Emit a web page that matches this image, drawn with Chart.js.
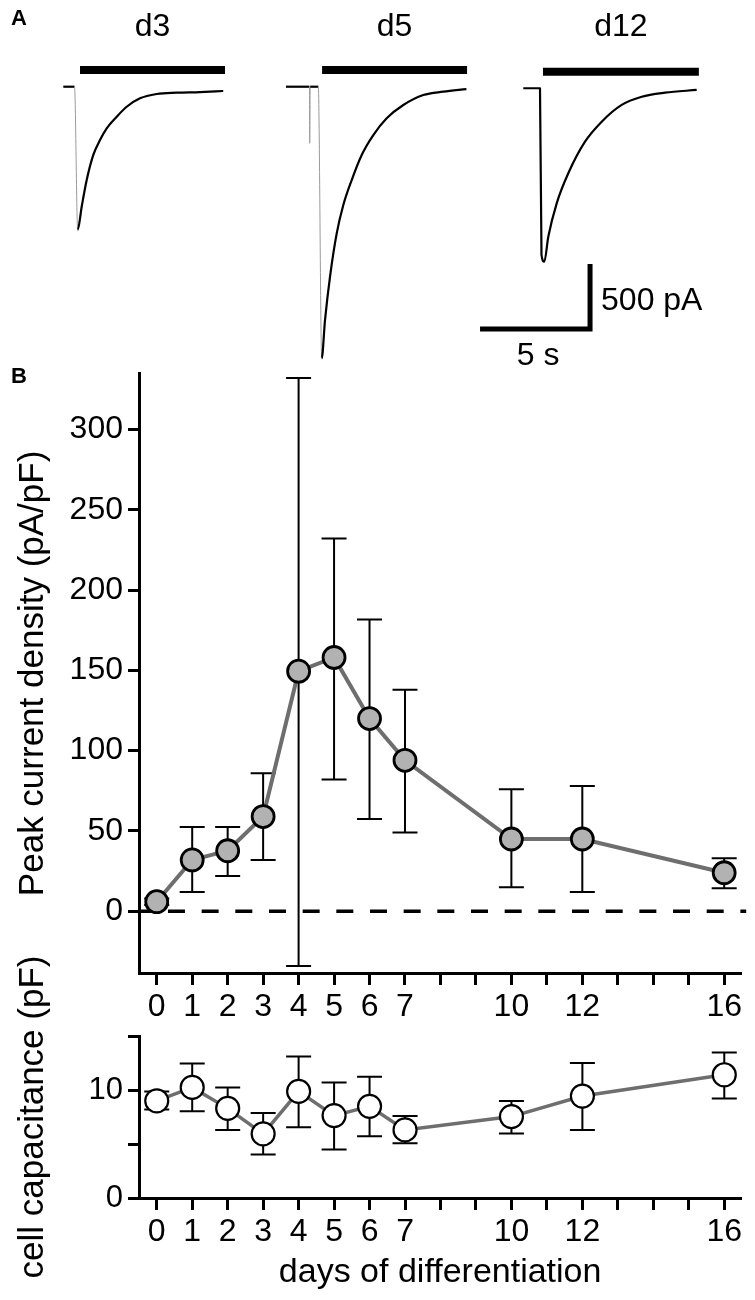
<!DOCTYPE html>
<html><head><meta charset="utf-8">
<script src="https://cdn.jsdelivr.net/npm/chart.js@4.4.0/dist/chart.umd.min.js"></script>
<style>
html,body{margin:0;padding:0;background:#fff;}
#wrap{position:relative;width:755px;height:1300px;overflow:hidden;background:#fff;}
canvas{position:absolute;left:0;}
</style></head><body>
<div id="wrap">
<canvas id="cA" width="755" height="370" style="top:0px"></canvas>
<canvas id="cB" width="755" height="670" style="top:360px"></canvas>
<canvas id="cC" width="755" height="360" style="top:940px"></canvas>
</div>
<script>
// ================= DATA =================
// Panel A: example whole-cell currents (time in s from trace start, current in pA)
const traceLabels = ['d3', 'd5', 'd12'];
const d3Time    = [0, 0.51, 0.655, 0.836, 1.064, 1.364, 1.668, 1.973, 2.427, 2.882, 3.486, 4.245, 5.155, 6.214, 7.27];
const d3Current = [0, 0, -1102, -923, -718, -525, -410, -320, -231, -154, -89, -56, -46, -41, -33];
const d5Time    = [0, 1.068, 1.077, 1.10, 1.468, 1.623, 1.773, 2.0, 2.305, 2.605, 2.986, 3.441, 3.968, 4.577, 5.332, 6.241, 7.15, 8.2];
const d5Current = [0, 0, -435, 0, 0, -2089, -1795, -1462, -1128, -910, -718, -525, -372, -243, -141, -64, -38, -18];
const d12Time    = [0, 0.759, 0.827, 0.955, 1.136, 1.518, 2.045, 2.805, 3.564, 4.473, 5.382, 6.441, 7.882];
const d12Current = [0, 0, -1282, -1334, -1142, -885, -654, -411, -257, -128, -65, -34, -13];
// agonist application periods (s from trace start)
const appStart = [0.76, 1.64, 0.895];
const appEnd   = [7.35, 8.23, 7.98];
// scale bars
const scaleBarTime = 5;      // s
const scaleBarCurrent = 500; // pA

// Panel B: peak current density and cell capacitance vs days of differentiation
const days = [0, 1, 2, 3, 4, 5, 6, 7, 10, 12, 16];
const density     = [6, 32, 37.7, 59, 149.5, 158, 120, 94, 45, 45, 24];
const densityHigh = [8, 52.5, 52.5, 86, 332, 232, 181.6, 138, 76, 78, 33];
const densityLow  = [4, 12, 22, 32, -34, 82, 57.4, 49, 15, 12, 14.4];
const capacitance     = [9.0, 10.24, 8.3, 5.94, 9.87, 7.63, 8.49, 6.3, 7.54, 9.44, 11.41];
const capacitanceHigh = [9.85, 12.45, 10.24, 7.88, 13.1, 10.7, 11.23, 7.6, 8.98, 12.49, 13.47];
const capacitanceLow  = [8.2, 8.03, 6.3, 4.03, 6.55, 4.49, 5.72, 5.07, 5.97, 6.3, 9.22];
const dayTicks = [0, 1, 2, 3, 4, 5, 6, 7, 8, 9, 10, 11, 12, 13, 14, 15, 16];
const dayTickLabels = ['0', '1', '2', '3', '4', '5', '6', '7', '10', '12', '16'];
const densityTicks = [0, 50, 100, 150, 200, 250, 300];
const capTicks = [0, 5, 10, 15];
const capTickLabels = ['0', '10'];

// ================= LAYOUT / STYLE =================
const FONT = "'Liberation Sans', Arial, Helvetica, sans-serif";
Chart.defaults.font.family = FONT;
Chart.defaults.color = '#000';
const traceStart = [2.877, 13.0, 23.786];   // s, horizontal placement of each trace
const traceBase  = [0, 0, -12];             // pA, vertical placement of each trace
const thinSegments = [[1], [1, 2, 4], []];  // fast, faint segments of the recordings
const appLevel = 128;                       // pA above baseline for application bars
const scaleCorner = {x: 26.82, y: -1864};   // corner of the scale bars

// ================= PANEL A =================
const traceT = [d3Time, d5Time, d12Time];
const traceI = [d3Current, d5Current, d12Current];
const dsA = [];
traceT.forEach((ts, k) => {
  const thin = thinSegments[k];
  dsA.push({
    data: ts.map((t, i) => ({x: t + traceStart[k], y: traceI[k][i] + traceBase[k]})),
    borderColor: '#000', borderWidth: 2.2, pointRadius: 0,
    cubicInterpolationMode: 'monotone',
    borderJoinStyle: 'round',
    segment: {
      borderColor: c => thin.includes(c.p0DataIndex) ? '#9a9a9a' : undefined,
      borderWidth: c => thin.includes(c.p0DataIndex) ? 1 : undefined
    }
  });
  dsA.push({
    data: [{x: appStart[k] + traceStart[k], y: appLevel + traceBase[k]},
           {x: appEnd[k] + traceStart[k], y: appLevel + traceBase[k]}],
    borderColor: '#000', borderWidth: 8, pointRadius: 0, borderCapStyle: 'butt'
  });
});
dsA.push({
  data: [{x: scaleCorner.x - scaleBarTime, y: scaleCorner.y},
         {x: scaleCorner.x, y: scaleCorner.y},
         {x: scaleCorner.x, y: scaleCorner.y + scaleBarCurrent}],
  borderColor: '#000', borderWidth: 5, pointRadius: 0, borderCapStyle: 'butt', borderJoinStyle: 'miter'
});

const labelsA = {
  id: 'labelsA',
  afterDraw(chart) {
    const {ctx, scales: {x, y}} = chart;
    ctx.save();
    ctx.fillStyle = '#000';
    ctx.font = 'bold 22px ' + FONT;
    ctx.textAlign = 'left'; ctx.textBaseline = 'alphabetic';
    ctx.fillText('A', 11, 25);
    ctx.font = '32px ' + FONT;
    ctx.textAlign = 'center';
    traceLabels.forEach((lab, k) => {
      const cx = x.getPixelForValue(traceStart[k] + (appStart[k] + appEnd[k]) / 2);
      ctx.fillText(lab, cx, 36);
    });
    const cxp = x.getPixelForValue(scaleCorner.x);
    const cyp = y.getPixelForValue(scaleCorner.y);
    ctx.textAlign = 'left';
    ctx.fillText(scaleBarCurrent + ' pA', cxp + 11, cyp - 19);
    ctx.textAlign = 'center';
    ctx.fillText(scaleBarTime + ' s', x.getPixelForValue(scaleCorner.x - scaleBarTime / 2) + 3, cyp + 36);
    ctx.restore();
  }
};

new Chart(document.getElementById('cA'), {
  type: 'line',
  data: {datasets: dsA},
  options: {
    responsive: false, animation: false, events: [],
    layout: {padding: 0},
    plugins: {legend: {display: false}, tooltip: {enabled: false}},
    scales: {
      x: {type: 'linear', display: false, min: 0, max: 34.318},
      y: {type: 'linear', display: false, min: -2179, max: 667}
    }
  },
  plugins: [labelsA]
});

// ================= PANEL B helpers =================
const errorBars = {
  id: 'errorBars',
  beforeDatasetsDraw(chart, args, opts) {
    const {ctx, scales: {x, y}, chartArea} = chart;
    ctx.save();
    if (opts.zeroLine) {
      const y0 = y.getPixelForValue(0);
      ctx.strokeStyle = '#000'; ctx.lineWidth = 3.5;
      ctx.setLineDash([17, 16.67]); ctx.lineDashOffset = 4.7;
      ctx.beginPath(); ctx.moveTo(chartArea.left, y0); ctx.lineTo(chartArea.right + 5, y0); ctx.stroke();
      ctx.setLineDash([]);
    }
    const ds = chart.data.datasets[0];
    ctx.strokeStyle = '#000'; ctx.lineWidth = 2;
    ds.data.forEach((p, i) => {
      const px = x.getPixelForValue(p.x);
      const yh = y.getPixelForValue(ds.errHigh[i]);
      const yl = y.getPixelForValue(ds.errLow[i]);
      ctx.beginPath();
      ctx.moveTo(px, yh); ctx.lineTo(px, yl);
      ctx.moveTo(px - 12.5, yh); ctx.lineTo(px + 12.5, yh);
      ctx.moveTo(px - 12.5, yl); ctx.lineTo(px + 12.5, yl);
      ctx.stroke();
    });
    ctx.restore();
  },
  afterDraw(chart, args, opts) {
    if (!opts.panelLabel) return;
    const {ctx} = chart;
    ctx.save();
    ctx.fillStyle = '#000';
    ctx.font = 'bold 22px ' + FONT;
    ctx.textBaseline = 'alphabetic';
    ctx.fillText(opts.panelLabel, 11, 23);
    ctx.restore();
  }
};

function dayAxis(height, title) {
  return {
    type: 'linear', min: -0.5, max: 16.48,
    afterBuildTicks: s => { s.ticks = dayTicks.map(v => ({value: v})); },
    afterFit: s => { s.height = height; s.paddingLeft = 0; s.paddingRight = 0; },
    grid: {display: true, drawOnChartArea: false, drawTicks: true, tickLength: 12, tickWidth: 3, tickColor: '#000'},
    border: {display: true, width: 3, color: '#000'},
    ticks: {
      autoSkip: false, maxRotation: 0, minRotation: 0, padding: 3, color: '#000',
      font: {size: 32},
      callback: v => dayTickLabels.includes(String(v)) ? String(v) : ''
    },
    title: title ? {display: true, text: title, font: {size: 34}, color: '#000', padding: {top: 0, bottom: 7}} : {display: false}
  };
}

function valueAxis(min, max, ticks, labels, fontSize, title) {
  return {
    type: 'linear', min: min, max: max,
    afterBuildTicks: s => { s.ticks = ticks.map(v => ({value: v})); },
    afterFit: s => { s.width = 139; s.paddingTop = 0; s.paddingBottom = 0; },
    grid: {display: true, drawOnChartArea: false, drawTicks: true, tickLength: 11, tickWidth: 3, tickColor: '#000'},
    border: {display: true, width: 3, color: '#000'},
    ticks: {padding: 5, color: '#000', font: {size: fontSize},
      callback: v => (labels === null || labels.includes(String(v))) ? String(v) : ''},
    title: {display: true, text: title, font: {size: 35}, color: '#000', padding: {top: 12, bottom: 0}}
  };
}

// ================= PANEL B: current density =================
new Chart(document.getElementById('cB'), {
  type: 'line',
  data: {datasets: [{
    data: days.map((d, i) => ({x: d, y: density[i]})),
    errHigh: densityHigh, errLow: densityLow,
    borderColor: '#6e6e6e', borderWidth: 4, tension: 0,
    pointRadius: 11, pointBorderWidth: 2.8, pointBackgroundColor: '#b2b2b2', pointBorderColor: '#000'
  }]},
  options: {
    responsive: false, animation: false, events: [],
    layout: {padding: {top: 10, right: 10, left: 0, bottom: 0}},
    plugins: {legend: {display: false}, tooltip: {enabled: false}, errorBars: {zeroLine: true, panelLabel: 'B'}},
    scales: {
      x: dayAxis(57, null),
      y: valueAxis(-38.4, 334.6, densityTicks, null, 32, 'Peak current density (pA/pF)')
    }
  },
  plugins: [errorBars]
});

// ================= PANEL B: capacitance =================
new Chart(document.getElementById('cC'), {
  type: 'line',
  data: {datasets: [{
    data: days.map((d, i) => ({x: d, y: capacitance[i]})),
    errHigh: capacitanceHigh, errLow: capacitanceLow,
    borderColor: '#6e6e6e', borderWidth: 3.5, tension: 0,
    pointRadius: 11.5, pointBorderWidth: 2.2, pointBackgroundColor: '#fff', pointBorderColor: '#000'
  }]},
  options: {
    responsive: false, animation: false, events: [],
    layout: {padding: {top: 96, right: 10, left: 0, bottom: 0}},
    plugins: {legend: {display: false}, tooltip: {enabled: false}, errorBars: {zeroLine: false}},
    scales: {
      x: dayAxis(102, 'days of differentiation'),
      y: valueAxis(0, 15, capTicks, capTickLabels, 31, 'cell capacitance (pF)')
    }
  },
  plugins: [errorBars]
});
</script>
</body></html>
